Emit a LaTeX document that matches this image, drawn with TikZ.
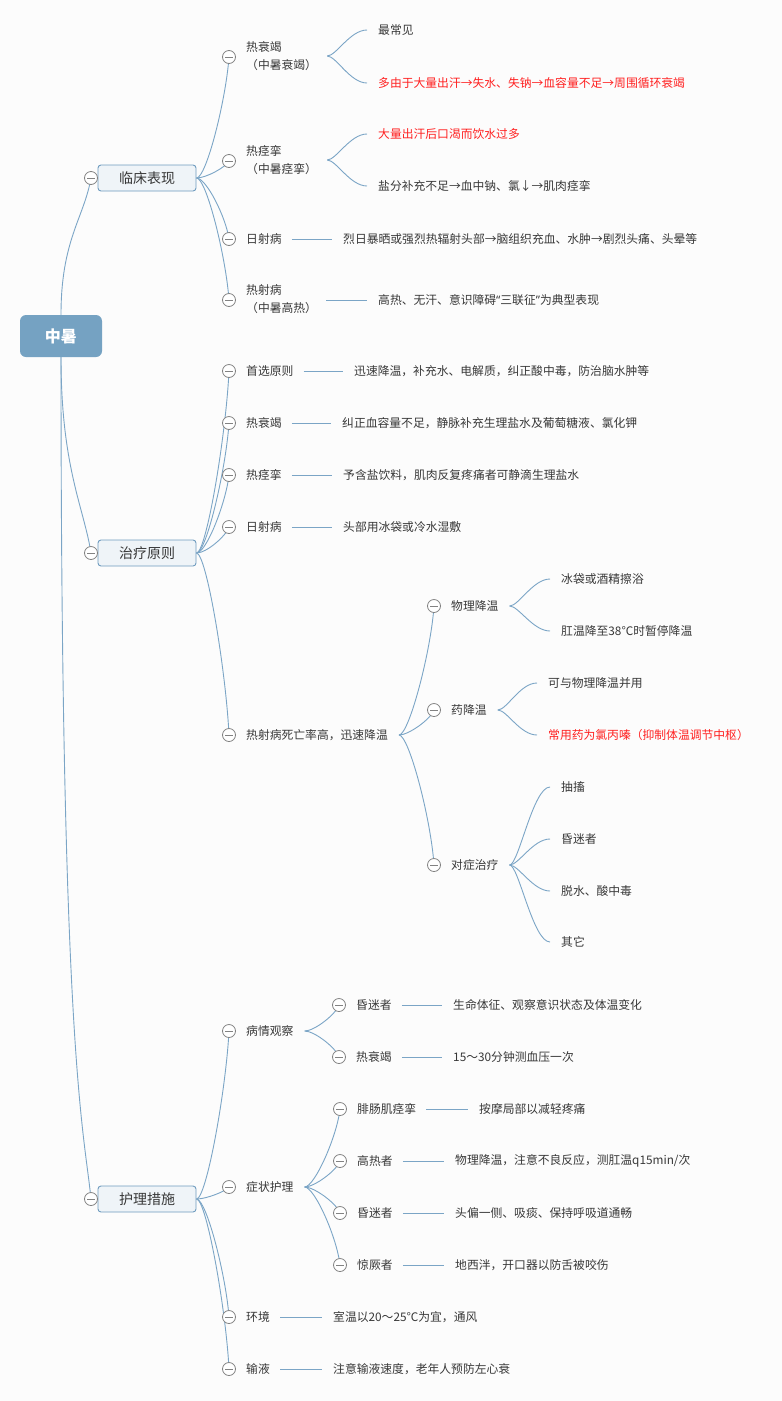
\documentclass[tikz,border=0pt]{standalone}
\usepackage{fontspec}
\setmainfont{Noto Sans CJK SC}
\newfontfamily\latinq{Noto Sans}
\usetikzlibrary{calc}
\definecolor{linec}{HTML}{7BA5C6}
\definecolor{txtc}{HTML}{383838}
\definecolor{redc}{HTML}{FF2020}
\definecolor{rootc}{HTML}{75A2C2}
\definecolor{boxf}{HTML}{EFF4F8}
\definecolor{boxd}{HTML}{6F9CBF}
\definecolor{circd}{HTML}{828282}
\definecolor{bgc}{HTML}{FCFCFC}
\pgfdeclarelayer{back}
\pgfdeclarelayer{wires}
\pgfsetlayers{back,wires,main}
\newcommand\bcurve[2]{\draw[conn] (#1) .. controls ($(#1)+(10,0)$) and ($(#2.center)!0.35!(#2.center|-#1)+(-3,0)$) .. (#2.center);}
\newcommand\leafcurve[2]{\draw[conn] (#1) .. controls +(9,0) and +(-17,0) .. (#2);}
\newcommand\leafline[2]{\draw[conn] ([xshift=10pt]#1.east) -- ([xshift=-11pt]#2.west);}
\begin{document}
\begin{tikzpicture}[x=1pt,y=-1pt,
 conn/.style={draw=linec, line width=0.9pt},
 txt/.style={anchor=west, inner sep=0pt, text=txtc, font=\fontsize{11.8pt}{18pt}\selectfont, align=left},
 redtxt/.style={text=redc},
 tog/.style={circle, draw=circd, fill=white, line width=0.8pt, minimum size=13pt, inner sep=0pt,
   path picture={\draw[circd, line width=0.8pt] ([xshift=-3.6pt]path picture bounding box.center) -- ([xshift=3.6pt]path picture bounding box.center);}},
 lone/.style={draw=boxd, fill=boxf, rounded corners=3pt, line width=0.9pt, minimum width=98pt, minimum height=26pt, inner sep=0pt, text=txtc, font=\fontsize{14pt}{16pt}\selectfont},
 rootbox/.style={fill=rootc, rounded corners=6pt, minimum width=82pt, minimum height=42pt, inner sep=0pt, text=white, font=\fontsize{16pt}{18pt}\selectfont\bfseries}
]
\begin{pgfonlayer}{back}
\fill[bgc] (0,0) rectangle (782,1401);
\end{pgfonlayer}
\useasboundingbox (0,0) rectangle (782,1401);

% root and level 1
\node[rootbox] (root) at (61,336) {中暑};
\node[lone] (A) at (147,178) {临床表现};
\node[lone] (B) at (147,553) {治疗原则};
\node[lone] (C) at (147,1199) {护理措施};
\node[tog] (tA) at (91,178) {};
\node[tog] (tB) at (91,553) {};
\node[tog] (tC) at (91,1199) {};

% ---- 临床表现 ----
\node[tog] (ta1) at (229,57) {};
\node[tog] (ta2) at (229,161) {};
\node[tog] (ta3) at (229,239) {};
\node[tog] (ta4) at (229,300) {};
\node[txt] (a1) at (246,56) {热衰竭\\（中暑衰竭）};
\node[txt] (a2) at (246,160) {热痉挛\\（中暑痉挛）};
\node[txt] (a3) at (246,239) {日射病};
\node[txt] (a4) at (246,299) {热射病\\（中暑高热）};
\node[txt] (a1x) at (378,30) {最常见};
\node[txt,redtxt] (a1y) at (378,83) {多由于大量出汗→失水、失钠→血容量不足→周围循环衰竭};
\node[txt,redtxt] (a2x) at (378,134) {大量出汗后口渴而饮水过多};
\node[txt] (a2y) at (378,186) {盐分补充不足→血中钠、氯↓→肌肉痉挛};
\node[txt] (a3x) at (343,239) {烈日暴晒或强烈热辐射头部→脑组织充血、水肿→剧烈头痛、头晕等};
\node[txt] (a4x) at (378,300) {高热、无汗、意识障碍{\latinq “}三联征{\latinq ”}为典型表现};
\coordinate (a1b) at ([xshift=10pt]a1.east);
\coordinate (a2b) at ([xshift=10pt]a2.east);

% ---- 治疗原则 ----
\node[tog] (tb1) at (229,371) {};
\node[tog] (tb2) at (229,423) {};
\node[tog] (tb3) at (229,475) {};
\node[tog] (tb4) at (229,527) {};
\node[tog] (tb5) at (229,735) {};
\node[txt] (b1) at (246,371) {首选原则};
\node[txt] (b2) at (246,423) {热衰竭};
\node[txt] (b3) at (246,475) {热痉挛};
\node[txt] (b4) at (246,527) {日射病};
\node[txt] (b5) at (246,735) {热射病死亡率高，迅速降温};
\node[txt] (b1x) at (354,371) {迅速降温，补充水、电解质，纠正酸中毒，防治脑水肿等};
\node[txt] (b2x) at (342,423) {纠正血容量不足，静脉补充生理盐水及葡萄糖液、氯化钾};
\node[txt] (b3x) at (343,475) {予含盐饮料，肌肉反复疼痛者可静滴生理盐水};
\node[txt] (b4x) at (343,527) {头部用冰袋或冷水湿敷};
\coordinate (b5b) at ([xshift=11pt]b5.east);
\node[tog] (tb51) at (434,606) {};
\node[tog] (tb52) at (434,710) {};
\node[tog] (tb53) at (434,865) {};
\node[txt] (b51) at (451,606) {物理降温};
\node[txt] (b52) at (451,710) {药降温};
\node[txt] (b53) at (451,865) {对症治疗};
\coordinate (b51b) at ([xshift=11pt]b51.east);
\coordinate (b52b) at ([xshift=11pt]b52.east);
\coordinate (b53b) at ([xshift=11pt]b53.east);
\node[txt] (b51x) at (561,579) {冰袋或酒精擦浴};
\node[txt] (b51y) at (561,631) {肛温降至38℃时暂停降温};
\node[txt] (b52x) at (548,683) {可与物理降温并用};
\node[txt,redtxt] (b52y) at (548,735) {常用药为氯丙嗪（抑制体温调节中枢）};
\node[txt] (b53w) at (561,787) {抽搐};
\node[txt] (b53x) at (561,839) {昏迷者};
\node[txt] (b53y) at (561,891) {脱水、酸中毒};
\node[txt] (b53z) at (561,942) {其它};

% ---- 护理措施 ----
\node[tog] (tc1) at (229,1031) {};
\node[tog] (tc2) at (229,1187) {};
\node[tog] (tc3) at (229,1317) {};
\node[tog] (tc4) at (229,1369) {};
\node[txt] (c1) at (246,1031) {病情观察};
\node[txt] (c2) at (246,1187) {症状护理};
\node[txt] (c3) at (246,1317) {环境};
\node[txt] (c4) at (246,1369) {输液};
\node[txt] (c3x) at (333,1317) {室温以20～25℃为宜，通风};
\node[txt] (c4x) at (333,1369) {注意输液速度，老年人预防左心衰};
\coordinate (c1b) at ([xshift=11pt]c1.east);
\coordinate (c2b) at ([xshift=11pt]c2.east);
\node[tog] (tc11) at (339,1005) {};
\node[tog] (tc12) at (339,1057) {};
\node[txt] (c11) at (356,1005) {昏迷者};
\node[txt] (c12) at (356,1057) {热衰竭};
\node[txt] (c11x) at (453,1005) {生命体征、观察意识状态及体温变化};
\node[txt] (c12x) at (453,1057) {15～30分钟测血压一次};
\node[tog] (tc21) at (340,1109) {};
\node[tog] (tc22) at (340,1161) {};
\node[tog] (tc23) at (340,1213) {};
\node[tog] (tc24) at (340,1265) {};
\node[txt] (c21) at (357,1109) {腓肠肌痉挛};
\node[txt] (c22) at (357,1161) {高热者};
\node[txt] (c23) at (357,1213) {昏迷者};
\node[txt] (c24) at (357,1265) {惊厥者};
\node[txt] (c21x) at (479,1109) {按摩局部以减轻疼痛};
\node[txt] (c22x) at (455,1161) {物理降温，注意不良反应，测肛温q15min/次};
\node[txt] (c23x) at (455,1213) {头偏一侧、吸痰、保持呼吸道通畅};
\node[txt] (c24x) at (455,1265) {地西泮，开口器以防舌被咬伤};

\begin{pgfonlayer}{wires}
% root curves
\draw[conn] (root.north) .. controls +(0,-75) and +(-7,40) .. (tA.center);
\draw[conn] (root.south) .. controls +(0,110) and +(-7,-45) .. (tB.center);
\draw[conn] (root.south) .. controls +(0,700) and +(-7,-70) .. (tC.center);
% level 1 -> 2
\bcurve{A.east}{ta1}
\bcurve{A.east}{ta2}
\bcurve{A.east}{ta3}
\bcurve{A.east}{ta4}
\bcurve{B.east}{tb1}
\bcurve{B.east}{tb2}
\bcurve{B.east}{tb3}
\bcurve{B.east}{tb4}
\bcurve{B.east}{tb5}
\bcurve{C.east}{tc1}
\bcurve{C.east}{tc2}
\bcurve{C.east}{tc3}
\bcurve{C.east}{tc4}
\bcurve{b5b}{tb51}
\bcurve{b5b}{tb52}
\bcurve{b5b}{tb53}
\bcurve{c1b}{tc11}
\bcurve{c1b}{tc12}
\bcurve{c2b}{tc21}
\bcurve{c2b}{tc22}
\bcurve{c2b}{tc23}
\bcurve{c2b}{tc24}
% brace leaves
\leafcurve{a1b}{[xshift=-11pt]a1x.west}
\leafcurve{a1b}{[xshift=-11pt]a1y.west}
\leafcurve{a2b}{[xshift=-11pt]a2x.west}
\leafcurve{a2b}{[xshift=-11pt]a2y.west}
\leafcurve{b51b}{[xshift=-11pt]b51x.west}
\leafcurve{b51b}{[xshift=-11pt]b51y.west}
\leafcurve{b52b}{[xshift=-11pt]b52x.west}
\leafcurve{b52b}{[xshift=-11pt]b52y.west}
\leafcurve{b53b}{[xshift=-11pt]b53w.west}
\leafcurve{b53b}{[xshift=-11pt]b53x.west}
\leafcurve{b53b}{[xshift=-11pt]b53y.west}
\leafcurve{b53b}{[xshift=-11pt]b53z.west}
% straight leaves
\leafline{a3}{a3x}
\draw[conn] ($(a4.east|-a4x.west)+(9,0)$) -- ([xshift=-11pt]a4x.west);
\leafline{b1}{b1x}
\leafline{b2}{b2x}
\leafline{b3}{b3x}
\leafline{b4}{b4x}
\leafline{c11}{c11x}
\leafline{c12}{c12x}
\leafline{c21}{c21x}
\leafline{c22}{c22x}
\leafline{c23}{c23x}
\leafline{c24}{c24x}
\leafline{c3}{c3x}
\leafline{c4}{c4x}
\end{pgfonlayer}
\end{tikzpicture}
\end{document}
